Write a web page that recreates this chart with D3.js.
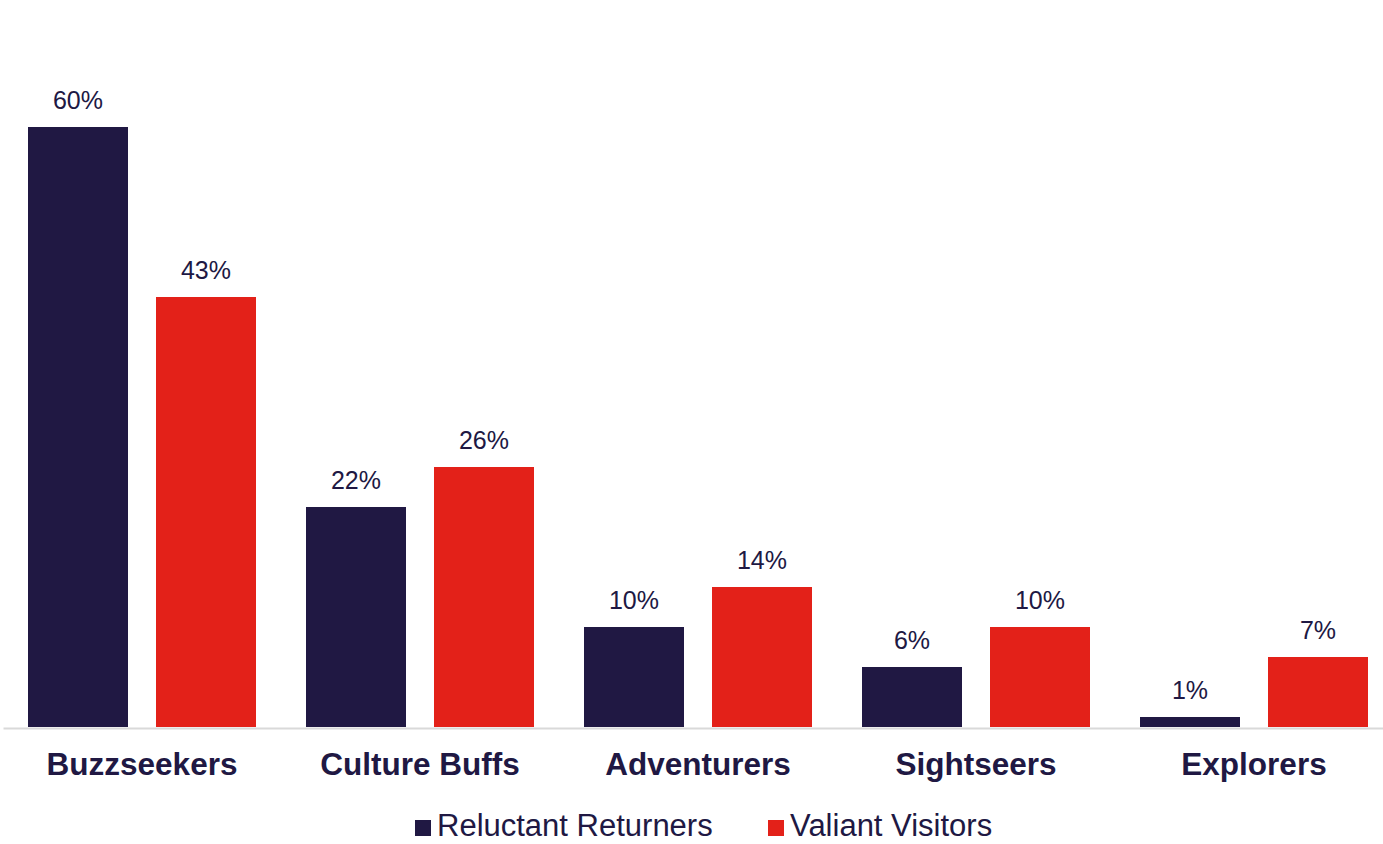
<!DOCTYPE html>
<html>
<head>
<meta charset="utf-8">
<script src="https://cdn.jsdelivr.net/npm/d3@7"></script>
<style>
  html, body { margin: 0; padding: 0; background: #ffffff; }
  svg { display: block; font-family: "Liberation Sans", Arial, sans-serif; }
</style>
</head>
<body>
<svg id="chart" width="1383" height="844"></svg>
<script>
// Traveller segments and the share of each group that falls into them
const categories = ["Buzzseekers", "Culture Buffs", "Adventurers", "Sightseers", "Explorers"];
const seriesNames = ["Reluctant Returners", "Valiant Visitors"];
const reluctantReturners = [60, 22, 10, 6, 1];
const valiantVisitors = [43, 26, 14, 10, 7];
const seriesColors = ["#201843", "#e32119"];

const textColor = "#201843";
const width = 1383, height = 844;
const baseline = 727;

const svg = d3.select("#chart");

const rows = categories.map((c, i) => ({
  category: c,
  values: [reluctantReturners[i], valiantVisitors[i]]
}));

const x = d3.scaleBand().domain(categories).range([3, 1393]).padding(0);
const xInner = d3.scaleBand().domain(seriesNames)
  .range([25, x.bandwidth() - 25])
  .paddingInner(0.21875).paddingOuter(0);
const y = d3.scaleLinear().domain([0, 70]).range([baseline, 27]);

// Bars and value labels
const groups = svg.append("g").selectAll("g")
  .data(rows).join("g")
  .attr("transform", d => `translate(${x(d.category)},0)`);

const cells = groups.selectAll("g")
  .data(d => d.values.map((v, j) => ({ series: seriesNames[j], value: v, j })))
  .join("g");

cells.append("rect")
  .attr("x", d => xInner(d.series))
  .attr("width", xInner.bandwidth())
  .attr("y", d => y(d.value))
  .attr("height", d => baseline - y(d.value))
  .attr("fill", d => seriesColors[d.j]);

cells.append("text")
  .attr("x", d => xInner(d.series) + xInner.bandwidth() / 2)
  .attr("y", d => y(d.value) - 18)
  .attr("text-anchor", "middle")
  .attr("font-size", 25)
  .attr("fill", textColor)
  .text(d => d.value + "%");

// Category axis along the baseline
const axis = svg.append("g")
  .attr("transform", `translate(0,${baseline + 1})`)
  .call(d3.axisBottom(x).tickSize(0).tickSizeOuter(0).tickPadding(47));
axis.select(".domain").attr("stroke", "#d9d9d9").attr("stroke-width", 2);
axis.selectAll(".tick text")
  .attr("font-family", "'Liberation Sans', Arial, sans-serif")
  .attr("font-size", 31.5)
  .attr("font-weight", "bold")
  .attr("fill", textColor)
  .attr("dy", 0);

// Legend
const legendX = [415, 768];
const legend = svg.append("g").selectAll("g")
  .data(seriesNames).join("g")
  .attr("transform", (d, i) => `translate(${legendX[i]},0)`);
legend.append("rect")
  .attr("x", 0).attr("y", 820)
  .attr("width", 16).attr("height", 16)
  .attr("fill", (d, i) => seriesColors[i]);
legend.append("text")
  .attr("x", 22).attr("y", 836)
  .attr("font-size", 31)
  .attr("fill", textColor)
  .text(d => d);
</script>
</body>
</html>
